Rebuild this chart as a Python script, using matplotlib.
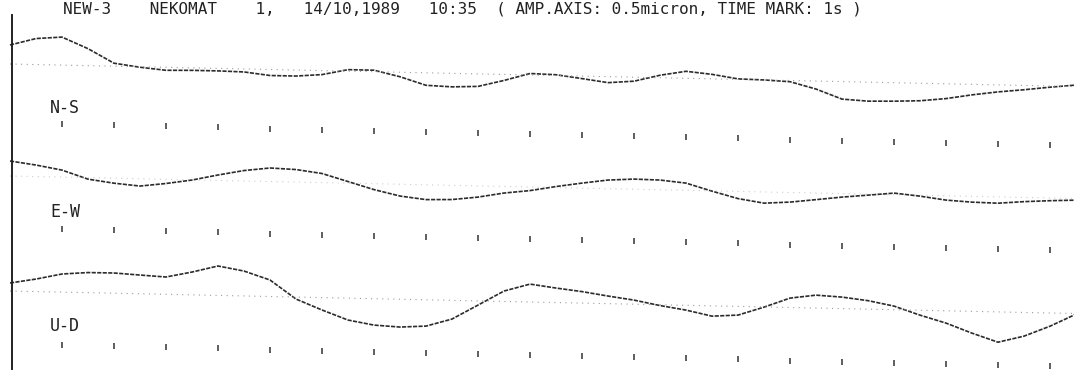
import matplotlib
matplotlib.use("Agg")
import matplotlib.pyplot as plt
import numpy as np

# time axis in seconds (time mark every 1 s)
t = np.arange(0, 21.0, 0.5)

# trace amplitudes, relative to each zero line
ns_amp = [19, 26, 28, 17, 3, -0.5, -3, -2.5, -2.5, -3, -6, -6, -4, 1.5, 1.5,
          -4.5, -12.5, -13.5, -12.5, -6, 1.5, 0.8, -2.5, -6, -4, 2.5, 7, 4.5,
          0.5, 0, -1.2, -8, -17.5, -19, -18.5, -17.5, -14.8, -10.5, -7, -4.3,
          -1.2, 1.5]
ew_amp = [15, 11.5, 7, -1.5, -5, -7.3, -4.2, -0.2, 5.4, 10.4, 13.5, 12.5, 9.1,
          1.6, -5.9, -11.8, -14.8, -14.2, -11.2, -6.6, -3.6, 1, 5, 8.6, 10.1,
          9.7, 7.2, -0.3, -7.2, -11.2, -9.6, -6.6, -3.5, -1, 1.6, -0.9, -4.3,
          -5.8, -6.3, -4.2, -2.7, -1.6]
ud_amp = [8, 12.5, 18.1, 20.1, 20.2, 18.7, 17.3, 22.8, 29.4, 24.9, 16.5, -2,
          -12.4, -21.9, -26.4, -27.8, -26.3, -18.7, -4.2, 10.4, 17.9, 14.5,
          11.5, 7.6, 4.1, -0.8, -4.8, -10.3, -8.7, -0.2, 9.4, 12.9, 11.5, 8.5,
          3.6, -4.9, -12.3, -21.8, -30.3, -23.7, -13.2, -0.6]

channels = ["N-S", "E-W", "U-D"]
traces = [ns_amp, ew_amp, ud_amp]
marks = np.arange(1, 21)

title = ("NEW-3    NEKOMAT    1,   14/10,1989   10:35  "
         "( AMP.AXIS: 0.5micron, TIME MARK: 1s )")

# layout (pixels of the 1074x370 sheet)
base0 = [306, 194, 79]      # zero line height at t=0
mark_off = [59, 52, 53]     # time mark row below zero line
label_off = [43, 35, 34]
drift = 1.1                 # the scan is a bit skewed

fig = plt.figure(figsize=(10.74, 3.70), dpi=100)
ax = fig.add_axes([0, 0, 1, 1])
ax.set_xlim(-10 / 52, 1064 / 52)
ax.set_ylim(0, 370)

mono = "DejaVu Sans Mono"
for i, name in enumerate(channels):
    base = base0[i] - drift * t
    y = base + np.array(traces[i])
    ax.plot(t, y, color="#2b2b2b", lw=1.2, ls=(0, (2.5, 0.8)))
    ax.plot(t, base, color="#9a9a9a", lw=0.8, ls=(0, (1, 4)),
            alpha=0.5 if name == "E-W" else 1.0)
    mb = base0[i] - drift * marks - mark_off[i]
    ax.vlines(marks, mb - 3, mb + 3, color="#333333", lw=1.1)
    ax.text(0.77, base0[i] - drift * 0.77 - label_off[i], name, fontsize=12,
            family=mono, va="center", ha="left", color="#222222")

ax.text(53 / 52, 357, title, fontsize=11.5, family=mono, va="baseline",
        ha="left", color="#222222")

for s in ["top", "right", "bottom"]:
    ax.spines[s].set_visible(False)
ax.spines["left"].set_position(("data", 2 / 52))
ax.spines["left"].set_bounds(0, 355)
ax.spines["left"].set_linewidth(1.4)
ax.spines["left"].set_color("#222222")
ax.set_xticks([])
ax.set_yticks([])

fig.savefig("out.png", dpi=100)
